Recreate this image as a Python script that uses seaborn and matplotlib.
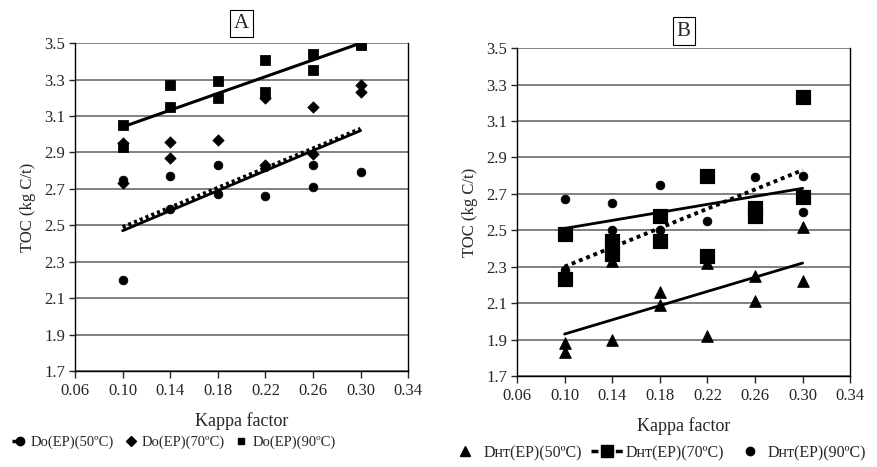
import numpy as np
import pandas as pd
import matplotlib
matplotlib.use("Agg")
import matplotlib.pyplot as plt
from matplotlib.lines import Line2D
import seaborn as sns

# %%
# panel A - Do(EP) stages
a50_x = [0.10, 0.10, 0.14, 0.14, 0.18, 0.18, 0.22, 0.22, 0.26, 0.26, 0.30]
a50_y = [2.75, 2.20, 2.77, 2.59, 2.83, 2.67, 2.82, 2.66, 2.83, 2.71, 2.79]
a70_x = [0.10, 0.10, 0.14, 0.14, 0.18, 0.22, 0.22, 0.26, 0.26, 0.30, 0.30]
a70_y = [2.95, 2.73, 2.96, 2.87, 2.97, 3.20, 2.83, 3.15, 2.89, 3.27, 3.23]
a90_x = [0.10, 0.10, 0.14, 0.14, 0.18, 0.18, 0.22, 0.22, 0.26, 0.26, 0.30, 0.30]
a90_y = [3.05, 2.93, 3.27, 3.15, 3.29, 3.20, 3.41, 3.23, 3.44, 3.35, 3.50, 3.49]

# panel B - DHT(EP) stages
b50_x = [0.10, 0.10, 0.14, 0.14, 0.18, 0.18, 0.22, 0.22, 0.26, 0.26, 0.30, 0.30]
b50_y = [1.88, 1.83, 2.33, 1.90, 2.16, 2.09, 2.32, 1.92, 2.25, 2.11, 2.52, 2.22]
b70_x = [0.10, 0.10, 0.14, 0.14, 0.18, 0.18, 0.22, 0.22, 0.26, 0.26, 0.30, 0.30]
b70_y = [2.48, 2.23, 2.44, 2.37, 2.58, 2.44, 2.80, 2.36, 2.62, 2.58, 3.23, 2.68]
b90_x = [0.10, 0.10, 0.14, 0.14, 0.18, 0.18, 0.22, 0.26, 0.30, 0.30]
b90_y = [2.67, 2.28, 2.65, 2.50, 2.75, 2.50, 2.55, 2.79, 2.80, 2.60]

# trend lines (end points)
trend_x = [0.10, 0.30]
a90_trend = [3.04, 3.50]
a50_trend = [2.49, 3.03]
a50_trend2 = [2.47, 3.02]
b50_trend = [1.93, 2.32]
b70_trend = [2.30, 2.83]
b90_trend = [2.51, 2.73]

x_ticks = [0.06, 0.10, 0.14, 0.18, 0.22, 0.26, 0.30, 0.34]
y_ticks = [1.7, 1.9, 2.1, 2.3, 2.5, 2.7, 2.9, 3.1, 3.3, 3.5]

# %%
sns.set_style("white")
plt.rcParams['font.family'] = ['Liberation Serif', 'DejaVu Serif']
plt.rcParams['font.size'] = 10

fig = plt.figure(figsize=(8.77, 4.67), dpi=100)
axA = fig.add_axes([0.0855, 0.2056, 0.380, 0.702])
axB = fig.add_axes([0.5895, 0.195, 0.380, 0.702])


def style_axis(ax, title, tpad):
    ax.set_xlim(0.06, 0.34)
    ax.set_ylim(1.7, 3.5)
    ax.set_xticks(x_ticks)
    ax.set_xticklabels(['%.2f' % v for v in x_ticks])
    ax.set_yticks(y_ticks)
    ax.set_yticklabels(['%.1f' % v for v in y_ticks])
    ax.yaxis.grid(True, color='#808080', linewidth=1.4)
    ax.set_axisbelow(True)
    for side in ['left', 'right', 'bottom']:
        ax.spines[side].set_color('black')
        ax.spines[side].set_linewidth(1.0)
    ax.spines['top'].set_visible(False)
    ax.tick_params(axis='x', direction='out', length=5, width=1, bottom=True, labelsize=12, pad=4)
    ax.tick_params(axis='y', direction='out', length=4, width=1, left=True, labelsize=12, pad=3)
    ax.set_xlabel('Kappa factor', fontsize=13, labelpad=9)
    ax.set_ylabel('TOC (kg C/t)', fontsize=12, labelpad=6)
    ax.set_title(title, fontsize=15, pad=tpad,
                 bbox=dict(boxstyle='square,pad=0.2', facecolor='white', edgecolor='black', linewidth=0.8))


# panel A
sns.scatterplot(x=a50_x, y=a50_y, ax=axA, marker='o', s=40, color='black', edgecolor='black', zorder=3)
sns.scatterplot(x=a70_x, y=a70_y, ax=axA, marker='D', s=34, color='black', edgecolor='black', zorder=3)
sns.scatterplot(x=a90_x, y=a90_y, ax=axA, marker='s', s=50, color='black', edgecolor='black', zorder=3)
sns.lineplot(x=trend_x, y=a90_trend, ax=axA, color='black', linewidth=2.2, zorder=4)
sns.lineplot(x=trend_x, y=a50_trend2, ax=axA, color='black', linewidth=2.0, zorder=4)
sns.lineplot(x=trend_x, y=a50_trend, ax=axA, color='black', linewidth=2.8, linestyle=(0, (0.8, 0.8)), zorder=5)
style_axis(axA, 'A', 11)

# panel B
sns.scatterplot(x=b50_x, y=b50_y, ax=axB, marker='^', s=70, color='black', edgecolor='black', zorder=3)
sns.scatterplot(x=b70_x, y=b70_y, ax=axB, marker='s', s=115, color='black', edgecolor='black', zorder=3)
sns.scatterplot(x=b90_x, y=b90_y, ax=axB, marker='o', s=40, color='black', edgecolor='black', zorder=3)
sns.lineplot(x=trend_x, y=b50_trend, ax=axB, color='black', linewidth=2.0, zorder=4)
sns.lineplot(x=trend_x, y=b90_trend, ax=axB, color='black', linewidth=2.0, zorder=4)
sns.lineplot(x=trend_x, y=b70_trend, ax=axB, color='black', linewidth=2.8, linestyle=(0, (1, 1)), zorder=5)
style_axis(axB, 'B', 9)

# legends
hA = [Line2D([], [], color='black', marker='o', markersize=6, linestyle=(0, (1, 1.5)), linewidth=2.5),
      Line2D([], [], color='black', marker='D', markersize=5, linestyle='none'),
      Line2D([], [], color='black', marker='s', markersize=5, linestyle='none')]
lA = ['Do(EP)(50ºC)', 'Do(EP)(70ºC)', 'Do(EP)(90ºC)']
fig.legend(hA, lA, loc='center', bbox_to_anchor=(0.198, 0.053), ncol=3, frameon=False,
           fontsize=10.5, handlelength=1.1, handletextpad=0.2, columnspacing=0.6)

hB = [Line2D([], [], color='black', marker='^', markersize=7, linestyle='none'),
      Line2D([], [], color='black', marker='s', markersize=9, linestyle=(0, (2, 1.5)), linewidth=2.5),
      Line2D([], [], color='black', marker='o', markersize=6, linestyle='none')]
lB = ['Dʜᴛ(EP)(50ºC)', 'Dʜᴛ(EP)(70ºC)', 'Dʜᴛ(EP)(90ºC)']
fig.legend(hB, lB, loc='center', bbox_to_anchor=(0.750, 0.030), ncol=3, frameon=False,
           fontsize=11.5, handlelength=2.0, handletextpad=0.15, columnspacing=0.6)

plt.savefig('out.png', dpi=100)
